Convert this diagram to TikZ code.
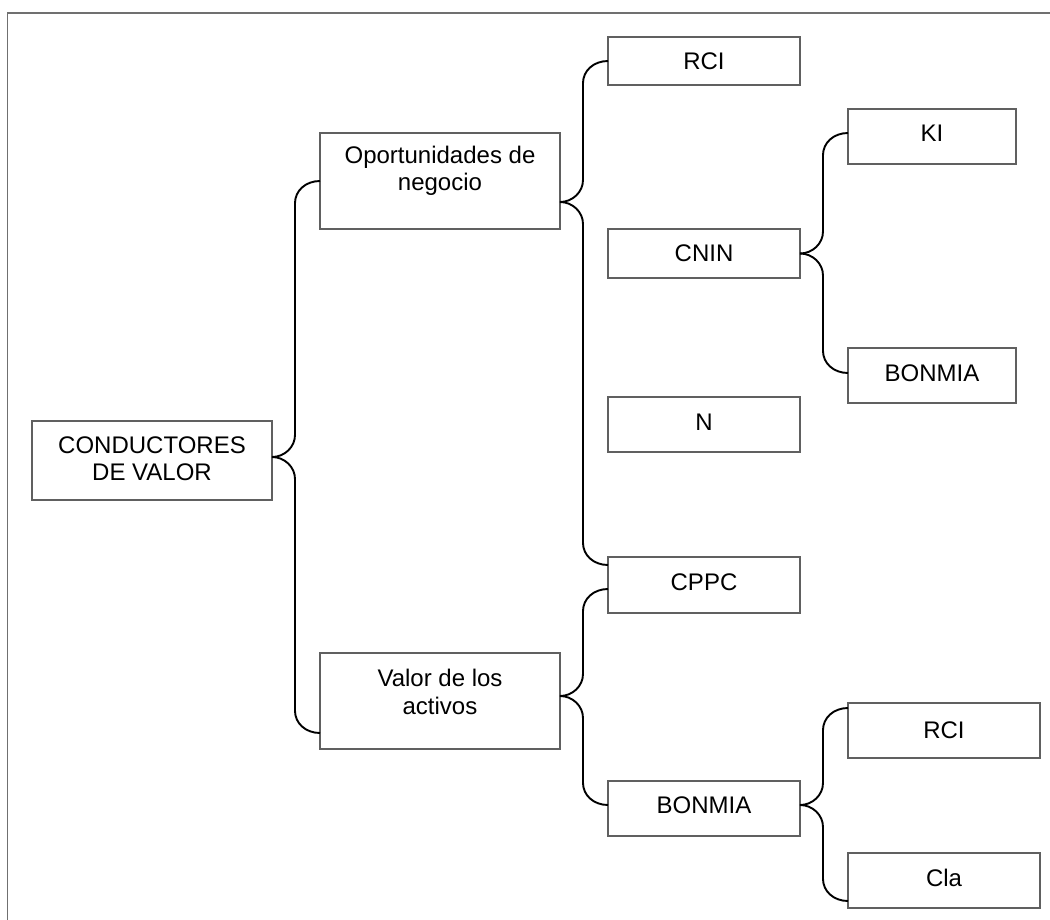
\documentclass[tikz,border=0pt]{standalone}
\usepackage{fontspec}
\setmainfont{Liberation Sans}
\usetikzlibrary{calc}
\definecolor{boxgray}{HTML}{606060}
\definecolor{framegray}{HTML}{707070}
\tikzset{
  box/.style={draw=boxgray, line width=0.75pt, inner sep=0pt, outer sep=0pt, fill=white},
  lbl/.style={font=\fontsize{12}{13.6}\selectfont, align=center, inner sep=0pt},
  conn/.style={draw=black, line width=0.95pt},
  bup/.style={to path={let \p1=(\tikztostart),\p2=(\tikztotarget) in
     .. controls (\x1+6.3pt,\y1) and (\x1+11.5pt,\y1+5pt) .. (\x1+11.5pt,\y1+11pt)
     -- (\x1+11.5pt,\y2-11pt)
     .. controls (\x1+11.5pt,\y2-5pt) and (\x1+16.7pt,\y2) .. (\x2,\y2)}},
  bdown/.style={to path={let \p1=(\tikztostart),\p2=(\tikztotarget) in
     .. controls (\x1+6.3pt,\y1) and (\x1+11.5pt,\y1-5pt) .. (\x1+11.5pt,\y1-11pt)
     -- (\x1+11.5pt,\y2+11pt)
     .. controls (\x1+11.5pt,\y2+5pt) and (\x1+16.7pt,\y2) .. (\x2,\y2)}},
}
\begin{document}
\begin{tikzpicture}[x=0.5pt,y=-0.5pt]
\useasboundingbox (0,0) rectangle (1050,920);
\clip (0,0) rectangle (1050,920);
\draw[framegray, line width=0.8pt] (7.5,13) rectangle (1070,940);

% boxes
\node[box, minimum width=120pt, minimum height=39.5pt] (cond) at (152,460.5) {};
\node[box, minimum width=120pt, minimum height=48pt] (opp) at (440,181) {};
\node[box, minimum width=120pt, minimum height=48pt] (val) at (440,701) {};
\node[box, minimum width=96pt, minimum height=24pt] (rci1) at (704,61) {};
\node[box, minimum width=96pt, minimum height=24.5pt] (cnin) at (704,253.5) {};
\node[box, minimum width=96pt, minimum height=27.5pt] (n) at (704,424.5) {};
\node[box, minimum width=96pt, minimum height=28pt] (cppc) at (704,585) {};
\node[box, minimum width=96pt, minimum height=27.5pt] (bon2) at (704,808.5) {};
\node[box, minimum width=84pt, minimum height=27.5pt] (ki) at (932,136.5) {};
\node[box, minimum width=84pt, minimum height=27.5pt] (bon1) at (932,375.5) {};
\node[box, minimum width=96pt, minimum height=27.5pt] (rci2) at (944,730.5) {};
\node[box, minimum width=96pt, minimum height=27.5pt] (cla) at (944,880.5) {};

% texts
\node[lbl] (condt) at (152,458.5) {CONDUCTORES\\DE VALOR};
\node[lbl] (oppt) at (440,171) {Oportunidades de\\negocio};
\node[lbl] (valt) at (440,692) {Valor de los\\activos};
\node[lbl] (rci1t) at (704,61) {RCI};
\node[lbl] (cnint) at (704,253) {CNIN};
\node[lbl] (nt) at (704,422) {N};
\node[lbl] (cppct) at (704,582) {CPPC};
\node[lbl] (bon2t) at (704,805) {BONMIA};
\node[lbl] (kit) at (932,133) {KI};
\node[lbl] (bon1t) at (932,373) {BONMIA};
\node[lbl] (rci2t) at (944,730) {RCI};
\node[lbl] (clat) at (944,878) {Cla};

% braces
\draw[conn] ([yshift=1.75pt]cond.east) to[bup] (opp.west);
\draw[conn] ([yshift=1.75pt]cond.east) to[bdown] ([yshift=-16pt]val.west);

\draw[conn] ([yshift=-10.5pt]opp.east) to[bup] (rci1.west);
\draw[conn] ([yshift=-10.5pt]opp.east) to[bdown] ([yshift=10pt]cppc.west);

\draw[conn] (cnin.east) to[bup] ([yshift=1.75pt]ki.west);
\draw[conn] (cnin.east) to[bdown] ([yshift=1.25pt]bon1.west);

\draw[conn] ([yshift=2.5pt]val.east) to[bup] ([yshift=-2pt]cppc.west);
\draw[conn] ([yshift=2.5pt]val.east) to[bdown] ([yshift=1.75pt]bon2.west);

\draw[conn] ([yshift=1.75pt]bon2.east) to[bup] ([yshift=11.25pt]rci2.west);
\draw[conn] ([yshift=1.75pt]bon2.east) to[bdown] ([yshift=-10.25pt]cla.west);
\end{tikzpicture}
\end{document}
